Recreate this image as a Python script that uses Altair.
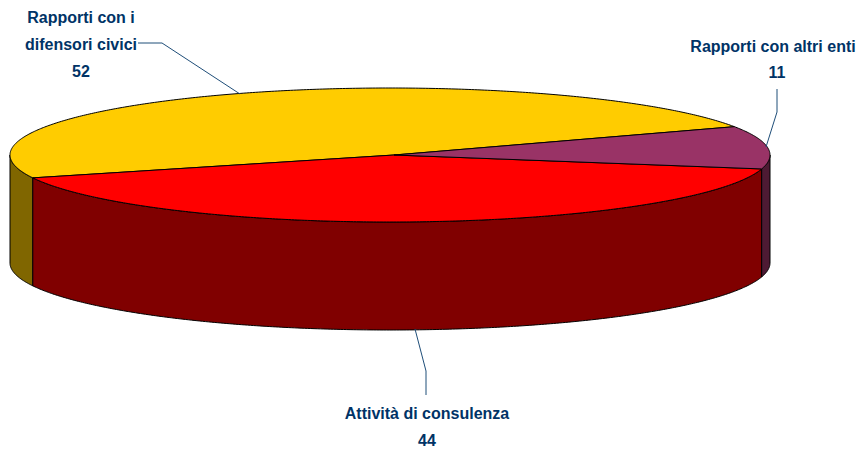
import numpy as np
import pandas as pd
import altair as alt

categories = ["Rapporti con i difensori civici", "Attività di consulenza", "Rapporti con altri enti"]
values = [52, 44, 11]
top_colors = ["#FFCC00", "#FF0000", "#993366"]
wall_colors = ["#806600", "#800000", "#4D1A33"]
start_angle = 25.0
CX, CY, RX, RY, DEPTH = 390.0, 155.0, 380.0, 67.0, 108.0
APEX_X = 394.0

label_lines = ["Rapporti con i", "difensori civici", "52", "Rapporti con altri enti", "11", "Attività di consulenza", "44"]
label_x = [81, 81, 81, 773, 777, 427, 427]
label_y = [18, 45, 72, 47, 73, 414, 441]

leader_x = [[138, 162, 240], [777, 777, 766], [426, 426, 415]]
leader_y = [[43, 43, 94], [89, 112, 147], [395, 371, 329]]

X = alt.X("x:Q", scale=alt.Scale(domain=[8, 856], range=[0, 848]), axis=None)
Y = alt.Y("y:Q", scale=alt.Scale(domain=[450, 8], range=[442, 0]), axis=None)


def arc(a0, a1, dy=0.0):
    t = np.radians(np.linspace(a0, a1, max(2, int(abs(a1 - a0) * 2) + 1)))
    return CX + RX * np.cos(t), CY - RY * np.sin(t) + dy


def poly(xs, ys, fill):
    xs = np.append(xs, xs[0])
    ys = np.append(ys, ys[0])
    df = pd.DataFrame({"x": xs, "y": ys, "i": np.arange(len(xs))})
    return alt.Chart(df).mark_line(fill=fill, stroke="#000000", strokeWidth=1, strokeJoin="round", interpolate="linear").encode(
        x=X, y=Y, order="i:Q"
    )


total = sum(values)
spans = [v / total * 360 for v in values]
bounds = [start_angle]
for s in spans:
    bounds.append(bounds[-1] + s)

layers = []
for k in range(3):
    a0, a1 = bounds[k], bounds[k + 1]
    lo, hi = max(a0, 180), min(a1, 360)
    if hi > lo:
        x1, y1 = arc(lo, hi)
        x2, y2 = arc(hi, lo, DEPTH)
        layers.append(poly(np.r_[x1, x2], np.r_[y1, y2], wall_colors[k]))
for k in range(3):
    xa, ya = arc(bounds[k], bounds[k + 1])
    layers.append(poly(np.r_[APEX_X, xa], np.r_[CY, ya], top_colors[k]))

for lx, ly in zip(leader_x, leader_y):
    df = pd.DataFrame({"x": lx, "y": ly, "i": range(len(lx))})
    layers.append(alt.Chart(df).mark_line(color="#1F4E79", strokeWidth=1).encode(x=X, y=Y, order="i:Q"))

labels = pd.DataFrame({"x": label_x, "y": label_y, "t": label_lines})
layers.append(
    alt.Chart(labels)
    .mark_text(font="Liberation Sans", fontWeight="bold", fontSize=16, color="#003366", align="center", baseline="middle")
    .encode(x=X, y=Y, text="t:N")
)

chart = (
    alt.layer(*layers)
    .properties(width=848, height=442, padding=0, autosize=alt.AutoSizeParams(type="none"))
    .configure_view(stroke=None)
)
chart.save("out.html", embed_options={"renderer": "svg", "actions": False})
